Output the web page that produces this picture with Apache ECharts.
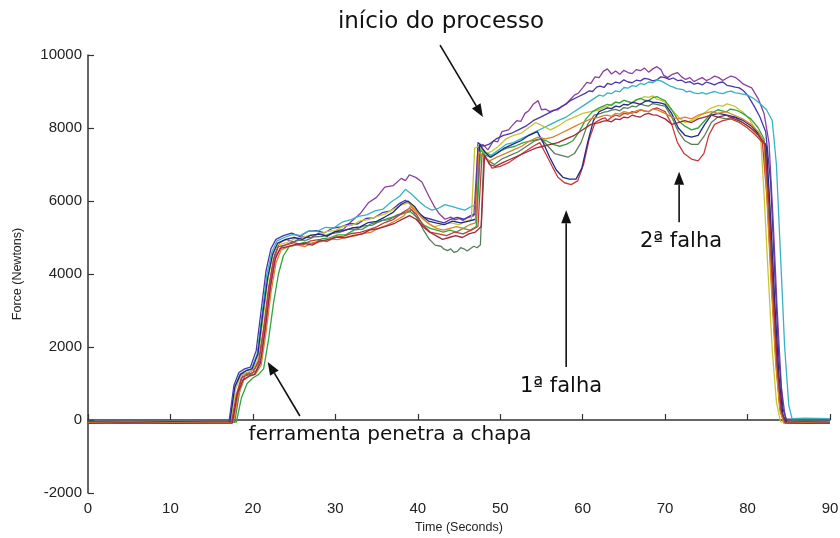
<!DOCTYPE html>
<html>
<head>
<meta charset="utf-8">
<script src="https://cdn.jsdelivr.net/npm/echarts@6/dist/echarts.min.js"></script>
<style>
  html, body { margin: 0; padding: 0; background: #ffffff; }
  #chart { width: 840px; height: 538px; }
</style>
</head>
<body>
<div id="chart"></div>
<script>
// Force (N) against time (s) for ten runs of the punching process.
const xTicks = [0, 10, 20, 30, 40, 50, 60, 70, 80, 90];
const yTicks = [-2000, 0, 2000, 4000, 6000, 8000, 10000];

const runPurple = [[0,-60],[4,-70],[8,-55],[12,-65],[16,-60],[17.6,-60],[18.2,800],[18.8,1250],[19.5,1300],[20.2,1400],[20.8,1700],[21.4,2600],[22,3700],[22.6,4500],[23.2,4850],[24,4950],[25,4880],[26,5020],[27,4990],[28,5120],[29,5030],[30,5170],[31,5230],[32,5450],[33,5650],[34,5950],[35,6100],[36,6380],[37,6420],[38,6620],[38.5,6560],[39,6720],[39.8,6640],[40.5,6520],[41.3,6150],[42,5850],[42.6,5650],[43.3,5500],[44,5560],[44.5,5480],[45,5520],[45.5,5470],[46,5540],[46.8,5600],[47.3,7450],[47.9,7550],[48.5,7400],[49.2,7650],[49.7,7620],[50.2,7900],[51,7950],[51.5,8080],[52,8200],[52.5,8180],[53,8400],[53.5,8480],[54,8650],[54.6,8750],[55,8500],[55.5,8520],[56,8450],[56.5,8490],[57,8500],[57.5,8600],[58,8650],[58.5,8780],[59,8900],[59.5,8960],[60,9100],[60.5,9250],[61,9220],[61.5,9400],[62,9380],[62.5,9550],[63,9620],[63.5,9480],[64,9560],[64.5,9470],[65,9580],[65.5,9520],[66,9490],[66.5,9600],[67,9570],[67.5,9640],[68,9530],[68.5,9620],[69,9680],[69.5,9600],[69.8,9450],[70.3,9380],[70.8,9460],[71.5,9520],[72,9400],[72.5,9330],[73,9380],[73.5,9270],[74,9330],[74.5,9380],[75,9300],[75.5,9350],[76,9420],[76.5,9380],[77,9300],[77.5,9370],[78,9420],[78.5,9390],[79,9300],[79.5,9200],[80.5,9100],[81.3,8800],[82,8400],[82.6,7600],[83.1,5500],[83.6,3000],[84.1,900],[84.6,20],[86,30],[88,20],[90,30]];

const runViolet = [[0,-60],[5,-55],[10,-65],[15,-60],[17.1,-60],[17.7,950],[18.3,1300],[19,1400],[19.7,1450],[20.4,1900],[21,3000],[21.6,4100],[22.2,4700],[22.8,4950],[23.7,5050],[24.7,5120],[25.7,5030],[26.7,5170],[27.7,5190],[28.7,5130],[29.7,5260],[30.7,5290],[31.7,5380],[32.7,5370],[33.7,5520],[34.7,5540],[35.7,5680],[36.7,5730],[37.7,5920],[38.5,6020],[39.2,5880],[40,5700],[40.8,5550],[41.6,5500],[42.4,5450],[43.2,5400],[44,5500],[44.8,5550],[45.6,5500],[46.4,5600],[47,5650],[47.3,7600],[47.9,7500],[48.6,7550],[49.5,7700],[50.4,7800],[51.3,7850],[52.2,7950],[53.1,8050],[54,8200],[54.9,8300],[55.8,8400],[56.7,8500],[57.6,8600],[58.5,8750],[59.4,8850],[60.3,8950],[60.8,9020],[61.2,9000],[61.7,9120],[62.1,9150],[62.6,9110],[63,9220],[63.5,9190],[64,9260],[64.5,9230],[65,9320],[65.5,9260],[66,9240],[66.5,9310],[67,9290],[67.5,9360],[68,9340],[68.5,9290],[69,9320],[69.5,9400],[70,9380],[70.5,9330],[71,9370],[71.5,9300],[72,9310],[72.5,9240],[73,9270],[73.5,9200],[74,9230],[74.5,9180],[75,9260],[75.5,9220],[76,9180],[76.5,9240],[77,9260],[77.5,9170],[78,9150],[78.5,9120],[79,9100],[79.5,9020],[80,8900],[80.8,8600],[81.5,8300],[82.2,7900],[82.8,6500],[83.3,4000],[83.8,1700],[84.3,300],[84.8,-40],[87,-50],[90,-40]];

const runCyan = [[0,-40],[5,-50],[10,-40],[15,-45],[17.2,-45],[17.8,900],[18.4,1250],[19.1,1350],[19.8,1400],[20.5,1800],[21.1,2900],[21.7,4000],[22.3,4600],[22.9,4900],[23.8,5000],[24.8,5080],[25.8,5060],[26.8,5180],[27.8,5170],[28.8,5280],[29.8,5260],[30.8,5420],[31.8,5480],[32.8,5580],[33.8,5620],[34.8,5730],[35.8,5780],[36.8,5980],[37.8,6130],[38.5,6320],[39.3,6180],[40.1,6000],[40.9,5850],[41.7,5750],[42.5,5800],[43.3,5900],[44.1,5850],[44.9,5800],[45.7,5750],[46.5,5850],[47.2,5900],[47.6,7500],[48.2,7350],[48.9,7250],[49.8,7400],[50.7,7550],[51.6,7600],[52.5,7700],[53.4,7800],[54.3,7900],[55.2,8000],[56.1,8100],[57,8200],[58,8300],[59,8450],[60,8600],[61,8750],[62,8900],[62.5,8870],[63,8960],[63.5,8940],[64,9020],[64.5,8990],[65,9110],[65.5,9090],[66,9160],[66.5,9140],[67,9220],[67.5,9190],[68,9260],[68.5,9240],[69,9310],[69.5,9290],[70,9230],[70.6,9150],[71,9120],[71.4,9080],[72.2,9050],[72.6,8990],[73,9010],[73.5,8960],[74,8940],[74.5,8970],[75,8930],[75.5,8970],[76,9000],[76.5,8960],[77,8940],[77.5,8990],[78,9010],[78.5,8960],[79,8950],[80,8900],[80.8,8800],[81.6,8650],[82.3,8500],[83,8200],[83.5,7000],[84,4500],[84.5,2000],[85,400],[85.4,40],[87,50],[90,40]];

const runYellow = [[0,-50],[5,-60],[10,-50],[15,-55],[17.3,-55],[17.9,850],[18.5,1200],[19.2,1300],[19.9,1350],[20.6,1650],[21.2,2700],[21.8,3800],[22.4,4500],[23,4800],[24,4850],[25,4960],[26,4990],[27,5070],[28,5080],[29,5170],[30,5190],[31,5310],[32,5330],[33,5460],[34,5490],[35,5570],[36,5640],[37,5770],[38,5890],[38.8,5950],[39.6,5800],[40.4,5550],[41.2,5400],[42,5300],[43,5350],[44,5400],[45,5350],[45.9,5450],[46.5,5500],[46.9,7450],[47.5,7500],[48.1,7300],[48.9,7350],[49.8,7500],[50.7,7700],[51.6,7800],[52.5,7850],[53.4,8000],[54.3,8150],[55.2,8050],[56.1,7950],[57,8050],[58,8200],[59,8300],[60,8400],[61,8450],[62,8500],[62.5,8560],[63,8590],[63.5,8650],[64,8710],[64.5,8680],[65,8760],[65.5,8720],[66,8690],[66.5,8770],[67,8800],[67.5,8860],[68,8840],[68.5,8880],[69,8790],[69.5,8760],[70,8700],[70.8,8500],[71.6,8300],[72.4,8150],[73.2,8200],[74,8300],[74.5,8380],[75,8450],[75.5,8540],[76,8580],[76.5,8620],[77,8600],[77.5,8660],[78,8630],[78.5,8590],[79,8500],[79.4,8450],[80.2,8250],[81,7950],[81.6,7700],[82,6200],[82.5,4000],[83,1900],[83.5,500],[84,-50],[87,-60],[90,-50]];

const runGreen = [[0,-60],[5,-55],[10,-65],[15,-60],[18,-60],[18.6,600],[19.3,1000],[20,1150],[20.7,1250],[21.3,1400],[21.9,2200],[22.5,3200],[23.1,4000],[23.7,4500],[24.4,4750],[25.3,4800],[26.3,4870],[27.3,4830],[28.3,4960],[29.3,4990],[30.3,5070],[31.3,5080],[32.3,5210],[33.3,5230],[34.3,5370],[35.3,5430],[36.3,5520],[37.3,5580],[38.3,5660],[39.1,5710],[39.9,5550],[40.7,5350],[41.5,5250],[42.3,5200],[43.1,5150],[43.9,5200],[44.7,5150],[45.5,5250],[46.3,5200],[47.1,5300],[47.6,7400],[48.2,7250],[48.9,7200],[49.8,7350],[50.8,7450],[51.8,7500],[52.8,7600],[53.8,7650],[54.8,7700],[55.6,7650],[56.4,7550],[57.2,7500],[58,7550],[58.8,7650],[59.6,7900],[60.4,8250],[61.2,8450],[62,8550],[62.5,8600],[63,8650],[63.5,8620],[64,8710],[64.5,8690],[65,8760],[65.5,8720],[66,8690],[66.5,8770],[67,8810],[67.5,8760],[68,8750],[68.5,8830],[69,8860],[69.5,8800],[70,8750],[70.8,8500],[71.6,8200],[72.4,8050],[73.2,7950],[74,8000],[74.8,8200],[75.6,8400],[76.4,8500],[76.9,8470],[77.4,8440],[77.9,8520],[78.4,8500],[78.9,8460],[79.4,8400],[80.4,8250],[81.3,8000],[82,7700],[82.5,5800],[83,3500],[83.5,1400],[84,200],[84.5,-60],[87,-55],[90,-60]];

const runOlive = [[0,-50],[6,-60],[11,-50],[16,-55],[17.8,-55],[18.4,800],[19,1200],[19.7,1250],[20.4,1350],[21,1700],[21.6,2700],[22.2,3800],[22.8,4500],[23.5,4750],[24.5,4850],[25.5,4920],[26.5,4930],[27.5,5020],[28.5,5030],[29.5,5110],[30.5,5140],[31.5,5220],[32.5,5230],[33.5,5320],[34.5,5340],[35.5,5460],[36.5,5490],[37.5,5620],[38.5,5690],[39.3,5760],[40,5500],[40.7,5200],[41.4,4950],[42.1,4790],[42.8,4760],[43.2,4680],[43.6,4640],[44,4690],[44.4,4590],[44.8,4620],[45.2,4720],[45.6,4690],[46,4630],[46.4,4700],[46.8,4760],[47.2,4720],[47.6,4800],[48,7200],[48.6,7100],[49.3,7000],[50.2,7150],[51.2,7250],[52.2,7350],[53.2,7500],[54.2,7650],[55,7700],[55.8,7500],[56.6,7300],[57.4,7250],[58.2,7200],[59,7300],[59.8,7600],[60.6,8100],[61.4,8350],[62.2,8400],[62.7,8440],[63,8450],[63.5,8490],[64,8510],[64.5,8470],[65,8560],[65.5,8540],[66,8600],[66.5,8580],[67,8660],[67.5,8620],[68,8600],[68.5,8670],[69,8650],[69.5,8620],[70,8600],[70.8,8300],[71.6,7900],[72.4,7650],[73.2,7550],[74,7550],[74.8,7800],[75.6,8150],[76.4,8300],[77.4,8250],[78.4,8300],[79.4,8150],[80.4,8000],[81.4,7800],[82.2,7550],[82.7,5800],[83.2,3500],[83.7,1400],[84.2,200],[84.7,-60],[87,-50],[90,-60]];

const runRed = [[0,-80],[4,-70],[8,-85],[12,-75],[16,-80],[17.4,-75],[18,700],[18.6,1150],[19.3,1250],[20,1300],[20.7,1600],[21.3,2500],[21.9,3600],[22.5,4400],[23.1,4750],[24,4800],[25,4860],[26,4790],[27,4910],[28,4940],[29,4890],[30,5010],[31,5040],[32,5110],[33,5140],[34,5210],[35,5290],[36,5410],[37,5490],[38,5660],[39,5800],[39.8,5650],[40.6,5350],[41.5,5150],[42.5,5100],[43.5,5050],[44.5,5150],[45.5,5100],[46.5,5200],[47.3,5300],[47.8,7300],[48.4,7150],[49,6900],[50,6950],[51,7050],[52,7200],[53,7350],[54,7500],[54.8,7600],[55.5,7300],[56.3,6950],[57,6650],[57.8,6500],[58.6,6450],[59.4,6550],[60.1,7000],[60.8,7700],[61.5,8150],[62.3,8250],[62.7,8280],[63,8200],[63.5,8300],[64,8350],[64.5,8320],[65,8400],[65.5,8380],[66,8450],[66.5,8420],[67,8500],[67.5,8470],[68,8450],[68.5,8520],[69,8550],[69.5,8500],[70,8450],[70.8,8100],[71.5,7600],[72.3,7300],[73.2,7150],[74,7100],[74.7,7300],[75.3,7800],[76,8100],[77,8200],[78,8250],[79,8150],[80,8000],[81,7800],[81.8,7600],[82.4,6000],[82.9,3800],[83.4,1800],[83.9,400],[84.4,-80],[86,-90],[88,-80],[90,-85]];

const runNavy = [[0,-60],[5,-70],[10,-55],[15,-65],[17.2,-60],[17.8,900],[18.5,1250],[19.2,1350],[19.9,1400],[20.6,1800],[21.2,2900],[21.8,3900],[22.4,4550],[23,4850],[24,4950],[25,5000],[26,4950],[27,5060],[28,5090],[29,5040],[30,5160],[31,5190],[32,5260],[33,5290],[34,5410],[35,5440],[36,5560],[37,5690],[38,5910],[38.8,6000],[39.6,5850],[40.4,5600],[41.3,5450],[42.2,5400],[43.2,5350],[44.2,5450],[45.2,5400],[46.2,5450],[47,5500],[47.5,7550],[48.1,7350],[48.8,7200],[49.6,7300],[50.5,7450],[51.5,7550],[52.5,7650],[53.5,7800],[54.5,7900],[55.2,7600],[56,7200],[56.8,6850],[57.6,6650],[58.4,6600],[59.2,6600],[59.9,6900],[60.6,7600],[61.3,8200],[62,8450],[62.5,8500],[63,8550],[63.5,8530],[64,8600],[64.5,8580],[65,8650],[65.5,8630],[66,8700],[66.5,8680],[67,8650],[67.5,8720],[68,8750],[68.5,8700],[69,8700],[69.5,8680],[70,8650],[70.8,8400],[71.6,8000],[72.4,7800],[73.2,7750],[74,7800],[74.8,8100],[75.6,8350],[76.5,8400],[77.5,8350],[78.5,8300],[79.5,8200],[80.5,8050],[81.5,7800],[82.3,7500],[82.8,5500],[83.3,3200],[83.8,1200],[84.3,100],[84.8,-70],[87,-60],[90,-70]];

const runOrange = [[0,-70],[5,-80],[10,-70],[15,-75],[17.6,-70],[18.2,650],[18.9,1100],[19.6,1200],[20.3,1250],[21,1500],[21.6,2400],[22.2,3500],[22.8,4300],[23.4,4650],[24.3,4750],[25.3,4800],[26.3,4750],[27.3,4860],[28.3,4890],[29.3,4960],[30.3,4940],[31.3,5010],[32.3,5040],[33.3,5110],[34.3,5140],[35.3,5260],[36.3,5340],[37.3,5460],[38.3,5590],[39.1,5850],[39.9,5700],[40.7,5500],[41.5,5350],[42.3,5250],[43.1,5200],[43.9,5250],[44.7,5300],[45.5,5250],[46.3,5350],[47,5400],[47.4,7350],[48,7200],[48.7,7100],[49.6,7200],[50.6,7300],[51.6,7400],[52.6,7500],[53.6,7650],[54.6,7750],[55.5,7700],[56.4,7750],[57.3,7850],[58.2,7950],[59.1,8050],[60,8150],[61,8250],[62,8300],[62.5,8340],[63,8350],[63.5,8320],[64,8400],[64.5,8380],[65,8450],[65.5,8420],[66,8400],[66.5,8470],[67,8500],[67.5,8460],[68,8450],[68.5,8520],[69,8500],[69.5,8450],[70,8400],[70.8,8300],[71.6,8250],[72.4,8300],[73.2,8250],[74,8350],[74.8,8400],[75.6,8450],[76.4,8400],[77.4,8450],[78.4,8350],[79.4,8250],[80.4,8100],[81.3,7900],[82,7600],[82.4,5800],[82.9,3600],[83.4,1600],[83.9,300],[84.4,-80],[87,-75],[90,-80]];

const runDarkRed = [[0,-90],[5,-80],[10,-90],[15,-85],[17.5,-85],[18.1,700],[18.8,1100],[19.5,1200],[20.2,1250],[20.9,1550],[21.5,2500],[22.1,3600],[22.7,4400],[23.3,4700],[24.2,4750],[25.2,4810],[26.2,4840],[27.2,4790],[28.2,4910],[29.2,4940],[30.2,5010],[31.2,4990],[32.2,5060],[33.2,5090],[34.2,5210],[35.2,5240],[36.2,5310],[37.2,5390],[38.2,5510],[39,5600],[39.8,5500],[40.6,5300],[41.4,5150],[42.2,5050],[43,4950],[43.8,5000],[44.6,5050],[45.4,5000],[46.2,5100],[47,5150],[47.7,5300],[48.1,7250],[48.7,7000],[49.4,6950],[50.3,7050],[51.3,7150],[52.3,7250],[53.3,7350],[54.3,7450],[55.2,7500],[56.1,7550],[57,7600],[58,7700],[59,7800],[60,7950],[61,8100],[62,8150],[62.5,8190],[63,8200],[63.5,8170],[64,8250],[64.5,8230],[65,8300],[65.5,8280],[66,8350],[66.5,8320],[67,8300],[67.5,8370],[68,8400],[68.5,8360],[69,8350],[70,8250],[70.8,8100],[71.6,8150],[72.4,8200],[73.2,8150],[74,8250],[74.8,8300],[75.6,8350],[76.4,8300],[77.4,8350],[78.4,8250],[79.4,8150],[80.4,8000],[81.3,7800],[82.1,7550],[82.6,5900],[83.1,3600],[83.6,1500],[84.1,250],[84.6,-80],[87,-90],[90,-85]];

const runs = [
  { data: runPurple,  color: '#8a3fa0' },
  { data: runViolet,  color: '#4b36a8' },
  { data: runCyan,    color: '#36b2c4' },
  { data: runYellow,  color: '#c9c532' },
  { data: runGreen,   color: '#33a33f' },
  { data: runOlive,   color: '#5a7d5e' },
  { data: runRed,     color: '#c83a3a' },
  { data: runNavy,    color: '#1f2a86' },
  { data: runOrange,  color: '#d9822b' },
  { data: runDarkRed, color: '#9c2a3a' }
];

// annotation arrows in data coordinates: [tail, head]
const arrows = [
  { from: [42.7, 10270], to: [47.9, 8300] },
  { from: [25.7, 110],   to: [21.8, 1590] },
  { from: [58.0, 1450],  to: [58.0, 5750] },
  { from: [71.7, 5420],  to: [71.7, 6800] }
];
const notes = [
  { text: 'início do processo',         x: 441, y: 22,  size: 23 },
  { text: 'ferramenta penetra a chapa', x: 390, y: 435, size: 20 },
  { text: '1ª falha',                   x: 561, y: 387, size: 21 },
  { text: '2ª falha',                   x: 681, y: 242, size: 21 }
];

const chart = echarts.init(document.getElementById('chart'), null, { renderer: 'canvas' });
const tickFont = { fontFamily: '"Liberation Sans", Arial, sans-serif', fontSize: 15, color: '#222' };
const nameFont = { fontFamily: '"Liberation Sans", Arial, sans-serif', fontSize: 12.5, color: '#222' };

chart.setOption({
  animation: false,
  backgroundColor: '#ffffff',
  grid: { left: 88, right: 10, top: 55, bottom: 45, containLabel: false, outerBoundsMode: 'none' },
  xAxis: {
    type: 'value', min: 0, max: 90, interval: 10,
    name: 'Time (Seconds)', nameLocation: 'middle', nameGap: 27,
    nameTextStyle: nameFont,
    axisLine: { show: true, lineStyle: { color: '#333', width: 1.5 } },
    axisTick: { show: true, inside: true, length: 6, lineStyle: { color: '#333', width: 1.2 } },
    axisLabel: Object.assign({ margin: 8 }, tickFont, { formatter: v => xTicks.includes(v) ? String(v) : '' }),
    splitLine: { show: false }
  },
  yAxis: {
    type: 'value', min: -2000, max: 10000, interval: 2000,
    name: 'Force (Newtons)', nameLocation: 'middle', nameGap: 64, nameRotate: 90,
    nameTextStyle: nameFont,
    axisLine: { show: true, lineStyle: { color: '#333', width: 1.5 } },
    axisTick: { show: true, inside: true, length: 6, lineStyle: { color: '#333', width: 1.2 } },
    axisLabel: Object.assign({ margin: 6 }, tickFont, { formatter: v => yTicks.includes(v) ? String(v) : '' }),
    splitLine: { show: false }
  },
  series: runs.map(r => ({
    type: 'line',
    data: r.data,
    showSymbol: false,
    smooth: false,
    lineStyle: { color: r.color, width: 1.3 },
    itemStyle: { color: r.color },
    emphasis: { disabled: true }
  }))
});

// arrows and labels
function arrowGraphics(a) {
  const p0 = chart.convertToPixel({ gridIndex: 0 }, a.from);
  const p1 = chart.convertToPixel({ gridIndex: 0 }, a.to);
  const dx = p1[0] - p0[0], dy = p1[1] - p0[1];
  const len = Math.sqrt(dx * dx + dy * dy);
  const ux = dx / len, uy = dy / len;
  const headLen = 13, headHalf = 5;
  const bx = p1[0] - ux * headLen, by = p1[1] - uy * headLen;
  return [
    { type: 'line', shape: { x1: p0[0], y1: p0[1], x2: bx, y2: by },
      style: { stroke: '#111', lineWidth: 1.6 }, z: 100 },
    { type: 'polygon', shape: { points: [
        [p1[0], p1[1]],
        [bx - uy * headHalf, by + ux * headHalf],
        [bx + uy * headHalf, by - ux * headHalf]
      ] }, style: { fill: '#111' }, z: 100 }
  ];
}

const graphics = [];
arrows.forEach(a => graphics.push(...arrowGraphics(a)));
notes.forEach(n => graphics.push({
  type: 'text', x: n.x, y: n.y, z: 100,
  style: { text: n.text, fill: '#111', font: n.size + 'px "DejaVu Sans", sans-serif',
           textAlign: 'center', textVerticalAlign: 'middle' }
}));
chart.setOption({ graphic: graphics });
</script>
</body>
</html>
